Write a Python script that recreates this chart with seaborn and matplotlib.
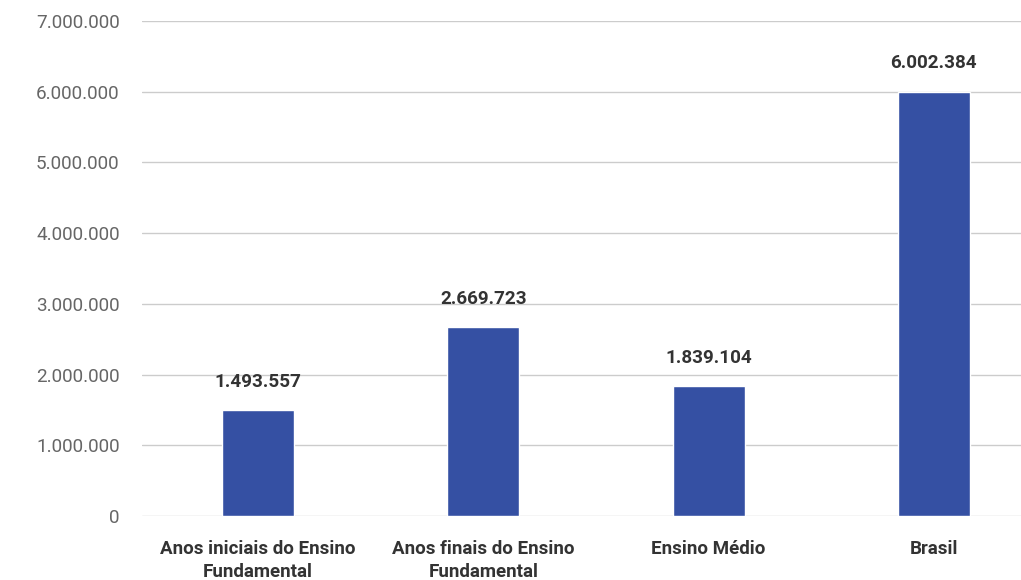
import pandas as pd
import numpy as np
import matplotlib.pyplot as plt
import seaborn as sns

categorias = ["Anos iniciais do Ensino\nFundamental", "Anos finais do Ensino\nFundamental",
              "Ensino Médio", "Brasil"]
valores = [1493557, 2669723, 1839104, 6002384]
yticks = [0, 1000000, 2000000, 3000000, 4000000, 5000000, 6000000, 7000000]

def fmt_br(v):
    # separador de milhar com ponto
    return f"{v:,.0f}".replace(",", ".")

sns.set_theme(style="white")
plt.rcParams['font.family'] = ['Roboto', 'DejaVu Sans']

df = pd.DataFrame({"cat": categorias, "valor": valores})

fig = plt.figure(figsize=(10.21, 5.80), dpi=100)
ax = fig.add_axes([0.139, 0.1103, 0.861, 0.8535])
sns.barplot(data=df, x="cat", y="valor", color="#3550a3", saturation=1, width=0.32, ax=ax)

ax.set_ylim(0, 7000000)
ax.set_xlim(-0.516, 3.387)
ax.set_yticks(yticks)
ax.set_yticklabels([fmt_br(v) for v in yticks], color="#666666", fontsize=13.6)
ax.tick_params(axis="y", length=0, pad=16)
ax.tick_params(axis="x", length=0, pad=17)
for lab in ax.get_xticklabels():
    lab.set_fontweight("bold")
    lab.set_color("#333333")
    lab.set_fontsize(13.5)
    lab.set_linespacing(1.4)
ax.grid(axis="y", color="#cccccc", linewidth=1)
ax.set_axisbelow(True)
for s in ax.spines.values():
    s.set_visible(False)
ax.set_xlabel("")
ax.set_ylabel("")

ax.bar_label(ax.containers[0], labels=[fmt_br(v) for v in valores], padding=14,
             fontsize=13.6, fontweight="bold", color="#333333")

fig.savefig("out.png", dpi=100)
